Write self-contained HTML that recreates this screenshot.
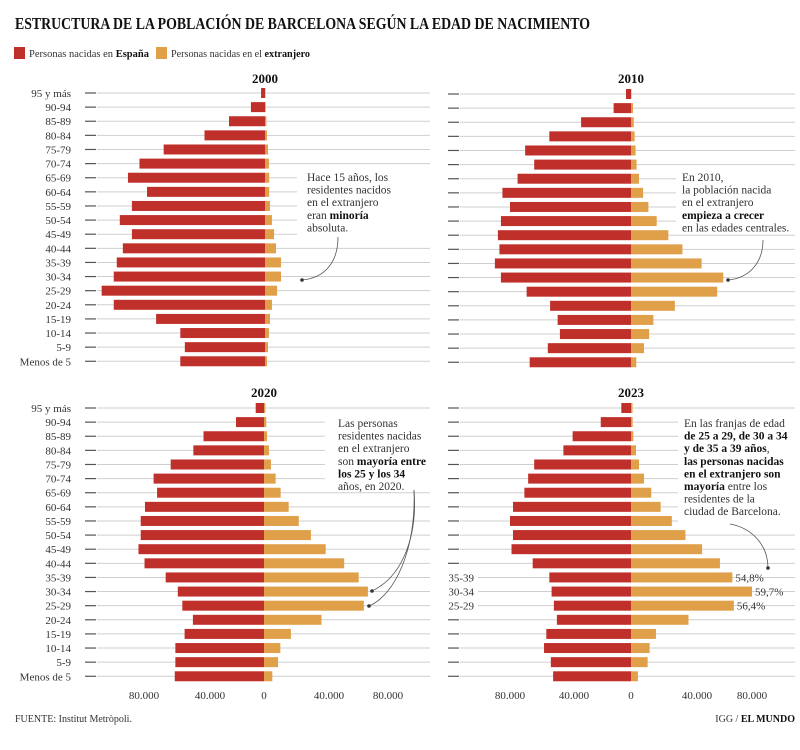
<!DOCTYPE html>
<html><head><meta charset="utf-8"><style>
body{margin:0;background:#fff}
svg{display:block;font-family:"Liberation Serif",serif}
</style></head><body>
<svg id="c" width="800" height="750" viewBox="0 0 800 750">
<text x="15" y="29" font-size="17" font-weight="bold" fill="#111" textLength="575" lengthAdjust="spacingAndGlyphs">ESTRUCTURA DE LA POBLACIÓN DE BARCELONA SEGÚN LA EDAD DE NACIMIENTO</text>
<g>
<rect x="14" y="47" width="11" height="12" fill="#c0302b"/>
<text x="29" y="57" font-size="10.5" fill="#333" textLength="120" lengthAdjust="spacingAndGlyphs">Personas nacidas en <tspan font-weight="bold" fill="#111">España</tspan></text>
<rect x="156" y="47" width="11" height="12" fill="#e0a04a"/>
<text x="171" y="57" font-size="10.5" fill="#333" textLength="139" lengthAdjust="spacingAndGlyphs">Personas nacidas en el <tspan font-weight="bold" fill="#111">extranjero</tspan></text>
</g>
<g id="panels"></g>
<text x="15" y="722" font-size="10" fill="#333">FUENTE:  Institut Metròpoli.</text>
<text x="795" y="722" font-size="10" fill="#333" text-anchor="end">IGG / <tspan font-weight="bold" fill="#111">EL MUNDO</tspan></text>
</svg>
<script>
const ages = ["95 y más","90-94","85-89","80-84","75-79","70-74","65-69","60-64","55-59","50-54","45-49","40-44","35-39","30-34","25-29","20-24","15-19","10-14","5-9","Menos de 5"];
const years = ["2000","2010","2020","2023"];
const spain2000 = [2600,9300,23800,40000,67000,83000,90600,78000,88000,96000,88000,94000,98000,100000,108000,100000,72000,56000,53000,56000];
const abroad2000 = [300,500,900,1300,2000,2600,2800,2800,3300,4600,6000,7300,10600,10600,8000,4600,3300,2600,2000,1300];
const spain2010 = [3300,11500,33000,54000,70000,64000,75000,85000,80000,86000,88000,87000,90000,86000,69000,53500,48500,47000,55000,67000];
const abroad2010 = [300,1300,1800,2400,3000,3700,5300,8000,11500,17000,24700,34000,46700,61000,57000,29000,14800,12000,8600,3500];
const spain2020 = [5500,18500,40000,46700,61700,73000,70700,78700,81500,81500,83000,79000,65000,57000,54000,47000,52500,58600,58600,59000];
const abroad2020 = [900,1500,2000,3300,4600,7700,11000,16300,23000,31000,40800,53000,62600,68700,66000,38000,17800,10800,9300,5500];
const spain2023 = [6400,20000,38600,44700,64000,68000,70500,78000,80000,78000,79000,65000,54000,52500,51000,49000,56000,57500,53000,51500];
const abroad2023 = [1000,1100,1500,3300,5300,8600,13400,19600,27000,36000,47000,58800,67000,80000,68000,38000,16500,12300,11000,4600];
const pctLabels = ["54,8%","59,7%","56,4%"];
const tickVals = [-80000,-40000,0,40000,80000];
const tickLabels = ["80.000","40.000","0","40.000","80.000"];

const NS="http://www.w3.org/2000/svg";
const root=document.getElementById('panels');
function mk(tag,attrs,parent,txt){const e=document.createElementNS(NS,tag);for(const k in attrs)e.setAttribute(k,attrs[k]);if(txt!==undefined)e.textContent=txt;(parent||root).appendChild(e);return e;}
const panels=[
 {year:"2000",cx:265,y0:93,gx0:97,gx1:430,tx0:85,sp:spain2000,ab:abroad2000,labels:true,axis:false,titleY:83},
 {year:"2010",cx:631,y0:94,gx0:460,gx1:795,tx0:448,sp:spain2010,ab:abroad2010,labels:false,axis:false,titleY:83},
 {year:"2020",cx:264,y0:408,gx0:97,gx1:430,tx0:85,sp:spain2020,ab:abroad2020,labels:true,axis:true,titleY:397,axisX:[144,210,264,329,388]},
 {year:"2023",cx:631,y0:408,gx0:460,gx1:795,tx0:448,sp:spain2023,ab:abroad2023,labels:false,axis:true,titleY:397,axisX:[510,574,631,697,752]}
];
const step=14.12, bh=10, k=121/80000;
panels.forEach((p,pi)=>{
 const g=mk('g',{});
 
 
 const yAt=i=>p.y0+i*step;
 const xs=v=>p.cx+v*k;
 const t=mk('text',{x:p.cx,y:p.titleY,'font-size':13,'font-weight':'bold','text-anchor':'middle',fill:'#111'},g,p.year);
 
 
 ages.forEach((a,i)=>{
  const y=yAt(i);
  const special = (pi===3 && i>=12 && i<=14);
  const gl=mk('line',{x1:special?478:p.gx0,x2:p.gx1,y1:y,y2:y,stroke:'#cfcfcf','stroke-width':1},g);
  
  
  if(!special){
   const tk=mk('line',{x1:p.tx0,x2:p.tx0+11,y1:y,y2:y,stroke:'#555','stroke-width':1.2},g);
   
   
  }
  if(p.labels){
   const l=mk('text',{x:71,y:y+4,'font-size':11,'text-anchor':'end',fill:'#333'},g,a);
   
   
  }
 });
 if(pi===0) mk('rect',{x:297,y:166,width:133,height:72,fill:'#fff'},g);
 if(pi===1) mk('rect',{x:676,y:166,width:119,height:68,fill:'#fff'},g);
 if(pi===2) mk('rect',{x:325,y:412,width:105,height:80,fill:'#fff'},g);
 if(pi===3) mk('rect',{x:678,y:412,width:117,height:118,fill:'#fff'},g);
 ages.forEach((a,i)=>{
  const y=yAt(i);
  const r1=mk('rect',{x:xs(-p.sp[i]),y:y-bh/2,width:p.cx-xs(-p.sp[i]),height:bh,fill:'#c0302b'},g);
  
  
  const r2=mk('rect',{x:p.cx,y:y-bh/2,width:xs(p.ab[i])-p.cx,height:bh,fill:'#e0a04a'},g);
  
  
 });
 if(p.axis){
  tickVals.forEach((v,j)=>{
   const tl=mk('text',{x:p.axisX[j],y:699,'font-size':11,'text-anchor':'middle',fill:'#333'},g,tickLabels[j]);
   
   
  });
 }
 if(pi===3){
  [12,13,14].forEach((idx,j)=>{
   const y=yAt(idx);
   const al=mk('text',{x:474,y:y+4,'font-size':11,'text-anchor':'end',fill:'#333'},g,ages[idx]);
   
   
   const pl=mk('text',{x:xs(p.ab[idx])+3,y:y+4,'font-size':11,fill:'#333'},g,pctLabels[j]);
   
   
  });
 }
});
function note(x,ys,lines,name){
 const g=mk('g',{});
 
 
 lines.forEach((ln,i)=>{
  const t=mk('text',{x:x,y:ys+i*12.6,'font-size':11.5,fill:'#333'},g);
  ln.forEach(seg=>{mk('tspan',seg[1]?{'font-weight':'bold',fill:'#111'}:{},t,seg[0]);});
 });
}
note(307,181,[[["Hace 15 años, los"]],[["residentes nacidos"]],[["en el extranjero"]],[["eran "],["minoría",1]],[["absoluta."]]],'annotation-2000');
note(682,181,[[["En 2010,"]],[["la población nacida"]],[["en el extranjero"]],[["empieza a crecer",1]],[["en las edades centrales."]]],'annotation-2010');
note(338,427,[[["Las personas"]],[["residentes nacidas"]],[["en el extranjero"]],[["son "],["mayoría entre",1]],[["los 25 y los 34",1]],[["años, en 2020."]]],'annotation-2020');
note(684,427,[[["En las franjas de edad"]],[["de 25 a 29, de 30 a 34",1]],[["y de 35 a 39 años",1],[","]],[["las personas nacidas",1]],[["en el extranjero son",1]],[["mayoría",1],[" entre los"]],[["residentes de la"]],[["ciudad de Barcelona."]]],'annotation-2023');
const arrows=[["M338,237 C338,262 325,278 302,280","arrow-2000"],["M763,240 C763,262 750,278 728,280","arrow-2010"],["M414,490 C418,540 400,578 372,591","arrow-2020-a"],["M414,490 C416,550 395,595 369,606","arrow-2020-b"],["M730,524 C752,528 768,545 768,568","arrow-2023"]];
arrows.forEach(a=>{
 const pth=mk('path',{d:a[0],fill:'none',stroke:'#555','stroke-width':0.8});
 
 
 const m=a[0].match(/(-?[\d.]+),(-?[\d.]+)$/);
 const hd=mk('circle',{cx:m[1],cy:m[2],r:1.8,fill:'#333'});
 
 
});
</script>
</body></html>
